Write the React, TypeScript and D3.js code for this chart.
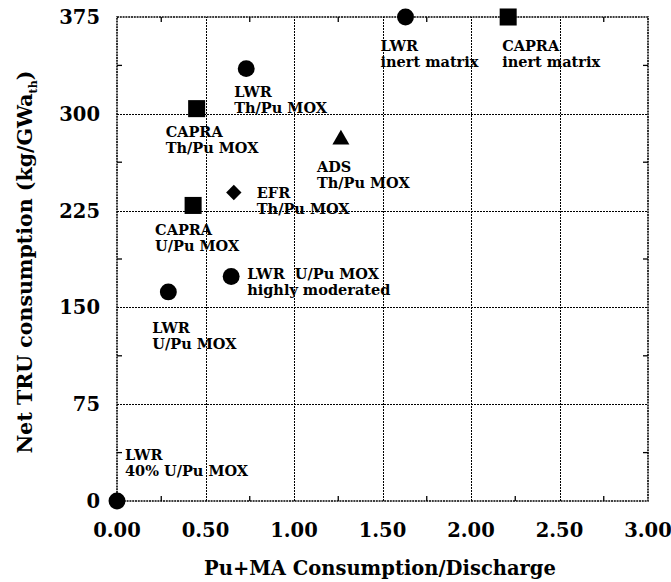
import React, { useEffect } from 'react';
import * as d3 from 'd3';

// reactor / fuel cases
const names = [
  ['LWR', '40% U/Pu MOX'],
  ['LWR', 'U/Pu MOX'],
  ['LWR  U/Pu MOX', 'highly moderated'],
  ['CAPRA', 'U/Pu MOX'],
  ['EFR', 'Th/Pu MOX'],
  ['CAPRA', 'Th/Pu MOX'],
  ['LWR', 'Th/Pu MOX'],
  ['ADS', 'Th/Pu MOX'],
  ['LWR', 'inert matrix'],
  ['CAPRA', 'inert matrix'],
];
const ratio = [0, 0.29, 0.645, 0.43, 0.66, 0.45, 0.73, 1.265, 1.63, 2.21];
const netTRU = [0, 162, 174, 229, 239, 304, 335, 280, 375, 375];
const shapes = ['circle', 'circle', 'circle', 'square', 'diamond', 'square', 'circle', 'triangle', 'circle', 'square'];

const xTicks = [0, 0.5, 1, 1.5, 2, 2.5, 3];
const yTicks = [0, 75, 150, 225, 300, 375];

// label placement relative to the marker (px)
const labelOffsets = [
  [8, -41], [-16, 41], [16, 3], [-38, 30], [23, 5],
  [-31, 28], [-12, 28], [-24, 32], [-25, 34], [-6, 34],
];

const W = 671;
const H = 582;
const margin = { top: 17, right: 23, bottom: 81, left: 117 };
const FONT = '"DejaVu Serif", serif';

const App = () => {
  useEffect(() => {
    document.body.style.margin = '0';
  }, []);

  const x = d3.scaleLinear().domain([0, 3]).range([margin.left, W - margin.right]);
  const y = d3.scaleLinear().domain([0, 375]).range([H - margin.bottom, margin.top]);

  const x0 = x(0), x1 = x(3), y0 = y(0), y1 = y(375);
  const minorX = d3.range(0.25, 3, 0.5);
  const minorY = d3.range(37.5, 375, 75);
  const px = (v: number) => Math.round(v) + 0.5;

  const symbolFor = (s: string) => {
    if (s === 'square' || s === 'diamond') return d3.symbol(d3.symbolSquare, s === 'square' ? 290 : 118)();
    if (s === 'triangle') return d3.symbol(d3.symbolTriangle, 125)();
    return d3.symbol(d3.symbolCircle, 225)();
  };

  const dots = { stroke: '#000', strokeWidth: 1, strokeDasharray: '2,1', shapeRendering: 'crispEdges' };

  return (
    <svg width={W} height={H} style={{ display: 'block', background: '#fff' }}>
      {/* grid */}
      {xTicks.slice(1, -1).map(t => (
        <line key={'gx' + t} x1={px(x(t))} x2={px(x(t))} y1={y0} y2={y1} {...dots} />
      ))}
      {yTicks.slice(1, -1).map(t => (
        <line key={'gy' + t} x1={x0} x2={x1} y1={px(y(t))} y2={px(y(t))} {...dots} />
      ))}
      {/* minor ticks, pointing inward */}
      {minorX.map(t => (
        <g key={'mx' + t}>
          <line x1={x(t)} x2={x(t)} y1={y0} y2={y0 - 5} stroke="#000" strokeWidth={1.3} />
          <line x1={x(t)} x2={x(t)} y1={y1} y2={y1 + 5} stroke="#000" strokeWidth={1.3} />
        </g>
      ))}
      {minorY.map(t => (
        <g key={'my' + t}>
          <line x1={x0} x2={x0 + 5} y1={y(t)} y2={y(t)} stroke="#000" strokeWidth={1.3} />
          <line x1={x1} x2={x1 - 5} y1={y(t)} y2={y(t)} stroke="#000" strokeWidth={1.3} />
        </g>
      ))}
      {/* frame */}
      <rect x={x0} y={y1} width={x1 - x0} height={y0 - y1} fill="none"
        stroke="#000" strokeWidth={1.6} strokeDasharray="2,0.8" />

      {/* tick labels */}
      {xTicks.map(t => (
        <text key={'tx' + t} x={x(t)} y={537} textAnchor="middle"
          fontFamily={FONT} fontWeight="bold" fontSize={19.5}>{t.toFixed(2)}</text>
      ))}
      {yTicks.map(t => (
        <text key={'ty' + t} x={100} y={y(t)} dy="0.36em" textAnchor="end"
          fontFamily={FONT} fontWeight="bold" fontSize={19.5}>{t}</text>
      ))}

      {/* axis titles */}
      <text x={380} y={575} textAnchor="middle" fontFamily={FONT} fontWeight="bold" fontSize={19.5}>
        Pu+MA Consumption/Discharge
      </text>
      <text transform="translate(32,262) rotate(-90)" textAnchor="middle"
        fontFamily={FONT} fontWeight="bold" fontSize={20.5}>
        Net TRU consumption (kg/GWa<tspan fontSize={11} dy={5}>th</tspan><tspan dy={-5}>)</tspan>
      </text>

      {/* points */}
      {ratio.map((r, i) => (
        <path key={'p' + i} d={symbolFor(shapes[i]) || ''}
          transform={`translate(${x(r)},${y(netTRU[i])})${shapes[i] === 'diamond' ? ' rotate(45)' : ''}`}
          fill="#000" />
      ))}

      {/* labels */}
      {names.map((lines, i) => {
        const [dx, dy] = labelOffsets[i];
        const lx = x(ratio[i]) + dx;
        const ly = y(netTRU[i]) + dy;
        return (
          <text key={'l' + i} fontFamily={FONT} fontWeight="bold" fontSize={14.5} xmlSpace="preserve">
            <tspan x={lx} y={ly}>{lines[0]}</tspan>
            <tspan x={lx} y={ly + 16}>{lines[1]}</tspan>
          </text>
        );
      })}
    </svg>
  );
};

export default App;
